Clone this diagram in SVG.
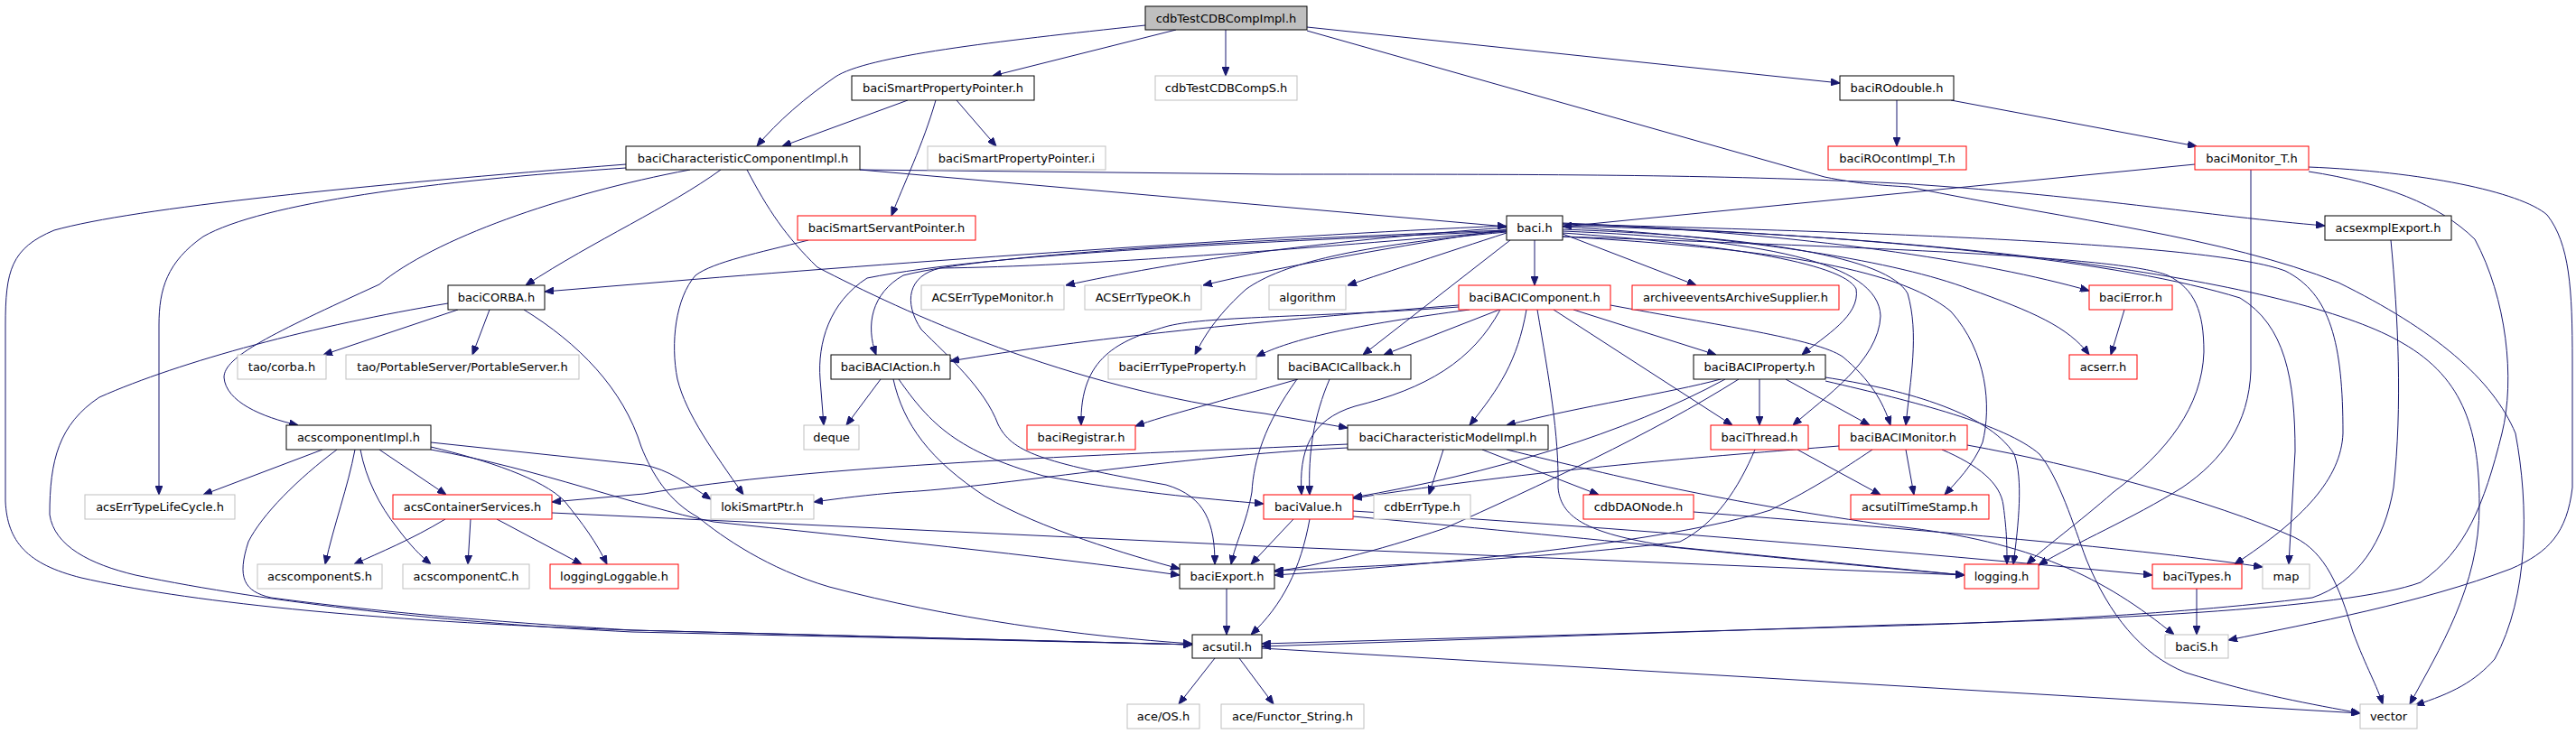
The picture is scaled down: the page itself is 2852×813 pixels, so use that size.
<svg xmlns="http://www.w3.org/2000/svg" width="2852" height="813" viewBox="0 0 2852 813">
<defs>
<marker id="a" viewBox="0 0 10 8" refX="10" refY="4" markerWidth="10" markerHeight="8" markerUnits="userSpaceOnUse" orient="auto"><path d="M0,0L10,4L0,8z" fill="#191970" stroke="#191970" stroke-width="1"/></marker>
<style>
.nb rect{fill:#fff;stroke:#000;stroke-width:1}
.nr rect{fill:#fff;stroke:#ff0000;stroke-width:1}
.ng rect{fill:#fff;stroke:#bfbfbf;stroke-width:1}
.root rect{fill:#bfbfbf;stroke:#000;stroke-width:1}
text{font-family:"DejaVu Sans","Noto Sans",sans-serif;font-size:13px;text-anchor:middle;fill:#000}
#edges path{fill:none;stroke:#191970;stroke-width:1;marker-end:url(#a)}
</style>
</defs>
<rect x="0" y="0" width="2852" height="813" fill="#fff"/>
<g id="edges">
<path d="M1268,28 C1100,46 960,62 925,85 C893,107 860,135 838,162"/>
<path d="M1302,33 L1099,84"/>
<path d="M1357,33 L1357,84"/>
<path d="M1447,30 L2037,92"/>
<path d="M1447,34 L2020,196 C2060,204 2080,205 2113,207 C2300,245 2460,262 2589,313 C2695,365 2760,420 2785,480 C2800,560 2800,660 2762,730 C2740,755 2715,768 2674,781"/>
<path d="M1005,111 L866,162"/>
<path d="M1059,111 L1103,162"/>
<path d="M1036,111 C1022,160 1000,205 987,239"/>
<path d="M2100,111 L2100,162"/>
<path d="M2160,111 L2432,162"/>
<path d="M952,188 L1668,251"/>
<path d="M952,188 L1413,193 C1700,193 1900,193 2100,203 C2300,215 2450,240 2574,250"/>
<path d="M798,188 C740,230 660,265 582,316"/>
<path d="M764,188 C620,215 480,265 420,315 C300,370 248,395 248,418 C250,445 290,462 330,471"/>
<path d="M693,186 C480,200 290,225 225,262 C185,290 176,320 176,360 L176,548"/>
<path d="M693,182 C400,205 150,230 60,255 C12,275 6,300 6,360 L6,555 C8,600 30,625 90,640 C200,665 400,688 700,698 L1320,714"/>
<path d="M827,188 C850,232 870,262 905,296 C1000,345 1180,430 1400,458 L1492,474"/>
<path d="M2430,182 L1730,251"/>
<path d="M2492,188 L2492,410 C2490,470 2460,510 2416,540 C2360,575 2300,600 2257,626"/>
<path d="M2556,190 C2640,203 2700,226 2740,265 C2775,330 2785,420 2770,480 C2750,560 2730,610 2680,645 C2600,675 2300,688 2100,692 L1397,716"/>
<path d="M2556,185 C2680,190 2790,212 2820,238 C2845,270 2848,320 2848,400 L2848,540 C2842,590 2822,612 2780,630 C2680,668 2560,690 2467,709"/>
<path d="M2647,266 C2655,350 2660,450 2650,540 C2640,600 2610,645 2560,662 C2400,682 2200,690 2100,693 L1397,713"/>
<path d="M895,266 C840,280 790,290 770,305 C748,330 742,380 750,420 C760,460 790,500 823,548"/>
<path d="M507,343 L358,393"/>
<path d="M542,343 L523,393"/>
<path d="M496,336 C350,360 200,400 110,440 C65,470 55,510 55,570 C60,605 100,625 150,637 C300,668 500,690 700,700 L1320,714"/>
<path d="M580,343 C640,380 690,430 710,495 C722,525 740,555 773,573 C800,595 850,630 918,650 C1050,685 1200,705 1320,713"/>
<path d="M357,498 L225,548"/>
<path d="M420,498 L494,548"/>
<path d="M393,498 C385,540 370,580 360,625"/>
<path d="M399,498 C405,530 420,560 440,585 C455,605 465,615 477,625"/>
<path d="M477,495 C540,510 600,530 625,555 C645,580 660,600 672,625"/>
<path d="M477,490 L713,515 C740,520 760,535 787,553"/>
<path d="M477,498 C600,520 700,560 790,578 C950,595 1150,615 1306,637"/>
<path d="M373,498 C330,530 290,570 275,600 C262,640 270,655 300,662 C450,682 600,692 700,698 L1320,714"/>
<path d="M493,575 C455,598 420,612 392,625"/>
<path d="M521,575 L518,625"/>
<path d="M550,575 L644,625"/>
<path d="M611,568 L1400,605 L2175,637"/>
<path d="M1492,492 C1200,505 900,515 713,547 L611,556"/>
<path d="M1492,496 C1300,505 1100,540 1000,545 C960,548 930,552 901,556"/>
<path d="M1598,498 L1582,548"/>
<path d="M1641,498 L1770,548"/>
<path d="M1668,498 C1800,530 1900,555 2100,583 C2250,600 2330,640 2407,703"/>
<path d="M1875,567 C2100,585 2350,605 2505,628"/>
<path d="M1615,338 C1400,355 1200,375 1052,400"/>
<path d="M1627,343 C1500,360 1430,375 1391,395"/>
<path d="M1660,343 L1532,393"/>
<path d="M1742,343 L1900,393"/>
<path d="M1690,343 C1680,400 1660,430 1627,471"/>
<path d="M1720,343 L1918,471"/>
<path d="M1783,338 C1900,360 2010,375 2040,395 C2070,420 2085,445 2093,471"/>
<path d="M1615,340 C1450,352 1330,350 1290,362 C1240,377 1195,395 1197,471"/>
<path d="M1661,343 C1630,400 1580,430 1500,450 C1450,465 1438,500 1441,548"/>
<path d="M1702,343 C1715,420 1726,480 1725,540 C1728,575 1760,592 1855,606 L2175,637"/>
<path d="M975,420 L937,471"/>
<path d="M995,420 C1030,470 1060,500 1155,527 C1250,545 1330,552 1399,558"/>
<path d="M989,420 C1000,470 1030,510 1091,550 C1150,585 1250,615 1306,630"/>
<path d="M1437,420 C1350,445 1290,460 1257,472"/>
<path d="M1472,420 C1455,460 1448,500 1450,548"/>
<path d="M1436,420 C1400,470 1388,510 1386,545 C1380,580 1368,600 1363,625"/>
<path d="M1668,256 C1450,275 1200,295 1041,297 C1005,305 1000,335 1020,365 C1050,395 1090,430 1105,470 C1120,500 1150,512 1291,537 C1335,550 1345,580 1345,625"/>
<path d="M1668,250 C1400,262 1000,290 713,314 L603,323"/>
<path d="M1668,252 C1450,268 1300,290 1180,316"/>
<path d="M1668,254 C1550,272 1420,295 1332,316"/>
<path d="M1668,258 C1600,280 1540,300 1492,316"/>
<path d="M1699,266 L1699,316"/>
<path d="M1730,259 L1878,316"/>
<path d="M1730,247 C2000,258 2200,290 2313,322"/>
<path d="M1730,251 C1950,265 2100,290 2180,320 C2250,345 2290,362 2313,393"/>
<path d="M1668,255 C1400,265 1100,280 1000,305 C965,325 958,360 970,393"/>
<path d="M1668,256 C1400,268 1100,280 960,308 C918,335 905,380 908,420 L912,471"/>
<path d="M1668,257 C1500,272 1420,292 1380,320 C1352,345 1335,368 1323,393"/>
<path d="M1672,266 L1509,393"/>
<path d="M1730,258 C1900,270 2040,290 2055,320 C2060,350 2020,372 1995,393"/>
<path d="M1730,256 C1950,265 2080,290 2082,350 C2080,400 2020,440 1985,471"/>
<path d="M1730,254 C1950,262 2090,285 2112,325 C2125,370 2115,420 2110,471"/>
<path d="M1730,262 C1950,275 2100,295 2160,345 C2200,390 2205,450 2195,490 C2185,515 2165,535 2153,548"/>
<path d="M1730,262 C2100,275 2350,285 2400,305 C2430,320 2440,345 2440,390 C2438,450 2400,500 2340,545 C2300,580 2265,605 2244,625"/>
<path d="M1730,248 C2100,258 2450,270 2530,300 C2580,325 2594,380 2594,480 C2592,530 2550,575 2474,625"/>
<path d="M1730,248 C2100,262 2350,290 2480,330 C2530,360 2541,420 2541,500 L2534,625"/>
<path d="M1730,250 C2200,262 2550,315 2660,380 C2730,420 2745,480 2745,560 C2745,650 2700,720 2668,780"/>
<path d="M1905,420 C1850,435 1750,450 1668,471"/>
<path d="M1948,420 L1948,471"/>
<path d="M1977,420 L2070,471"/>
<path d="M1910,420 C1800,480 1650,525 1498,551"/>
<path d="M2021,418 C2100,430 2200,455 2230,503 C2240,530 2235,580 2229,625"/>
<path d="M2021,422 C2120,445 2220,470 2258,503 C2280,530 2295,580 2310,620 C2335,680 2370,725 2420,745 C2500,770 2560,780 2613,790"/>
<path d="M1925,420 C1830,480 1700,540 1600,585 C1520,612 1460,626 1411,633"/>
<path d="M2110,498 L2119,548"/>
<path d="M2150,498 C2190,515 2215,535 2218,560 C2222,590 2222,605 2222,625"/>
<path d="M2036,494 C1900,505 1700,520 1498,552"/>
<path d="M2178,493 C2300,515 2450,555 2540,595 C2575,612 2590,650 2605,700 C2620,740 2632,760 2638,780"/>
<path d="M2073,498 C2040,520 2010,540 1960,565 C1850,600 1600,625 1411,637"/>
<path d="M1990,498 L2082,548"/>
<path d="M1943,498 C1925,540 1900,580 1860,600 C1700,620 1500,628 1411,632"/>
<path d="M1432,575 L1385,625"/>
<path d="M1450,575 C1440,630 1420,670 1385,703"/>
<path d="M1498,572 C1800,600 2000,622 2175,637"/>
<path d="M1498,566 C1800,585 2100,610 2383,637"/>
<path d="M2432,652 L2432,703"/>
<path d="M2352,343 L2337,393"/>
<path d="M1358,652 L1358,703"/>
<path d="M1345,729 L1305,780"/>
<path d="M1372,729 L1410,780"/>
<path d="M1397,718 L2613,790"/>
</g>
<g id="n1" class="root"><rect x="1268" y="7" width="179" height="26"/><text x="1357.5" y="25">cdbTestCDBCompImpl.h</text></g>
<g id="n2" class="nb"><rect x="943" y="84" width="202" height="27"/><text x="1044" y="102">baciSmartPropertyPointer.h</text></g>
<g id="n3" class="ng"><rect x="1279" y="84" width="157" height="27"/><text x="1357.5" y="102">cdbTestCDBCompS.h</text></g>
<g id="n4" class="nb"><rect x="2037" y="84" width="126" height="27"/><text x="2100" y="102">baciROdouble.h</text></g>
<g id="n5" class="nb"><rect x="693" y="162" width="259" height="26"/><text x="822.5" y="180">baciCharacteristicComponentImpl.h</text></g>
<g id="n6" class="ng"><rect x="1027" y="162" width="197" height="26"/><text x="1125.5" y="180">baciSmartPropertyPointer.i</text></g>
<g id="n7" class="nr"><rect x="2024" y="162" width="153" height="26"/><text x="2100.5" y="180">baciROcontImpl_T.h</text></g>
<g id="n8" class="nr"><rect x="2430" y="162" width="126" height="26"/><text x="2493" y="180">baciMonitor_T.h</text></g>
<g id="n9" class="nr"><rect x="883" y="239" width="197" height="27"/><text x="981.5" y="257">baciSmartServantPointer.h</text></g>
<g id="n10" class="nb"><rect x="1668" y="239" width="62" height="27"/><text x="1699" y="257">baci.h</text></g>
<g id="n11" class="nb"><rect x="2574" y="239" width="140" height="27"/><text x="2644" y="257">acsexmplExport.h</text></g>
<g id="n12" class="nb"><rect x="496" y="316" width="107" height="27"/><text x="549.5" y="334">baciCORBA.h</text></g>
<g id="n13" class="ng"><rect x="1020" y="316" width="158" height="27"/><text x="1099" y="334">ACSErrTypeMonitor.h</text></g>
<g id="n14" class="ng"><rect x="1201" y="316" width="129" height="27"/><text x="1265.5" y="334">ACSErrTypeOK.h</text></g>
<g id="n15" class="ng"><rect x="1405" y="316" width="85" height="27"/><text x="1447.5" y="334">algorithm</text></g>
<g id="n16" class="nr"><rect x="1615" y="316" width="168" height="27"/><text x="1699" y="334">baciBACIComponent.h</text></g>
<g id="n17" class="nr"><rect x="1807" y="316" width="229" height="27"/><text x="1921.5" y="334">archiveeventsArchiveSupplier.h</text></g>
<g id="n18" class="nr"><rect x="2313" y="316" width="92" height="27"/><text x="2359" y="334">baciError.h</text></g>
<g id="n19" class="ng"><rect x="263" y="393" width="98" height="27"/><text x="312" y="411">tao/corba.h</text></g>
<g id="n20" class="ng"><rect x="383" y="393" width="258" height="27"/><text x="512" y="411">tao/PortableServer/PortableServer.h</text></g>
<g id="n21" class="nb"><rect x="920" y="393" width="132" height="27"/><text x="986" y="411">baciBACIAction.h</text></g>
<g id="n22" class="ng"><rect x="1227" y="393" width="164" height="27"/><text x="1309" y="411">baciErrTypeProperty.h</text></g>
<g id="n23" class="nb"><rect x="1415" y="393" width="147" height="27"/><text x="1488.5" y="411">baciBACICallback.h</text></g>
<g id="n24" class="nb"><rect x="1875" y="393" width="146" height="27"/><text x="1948" y="411">baciBACIProperty.h</text></g>
<g id="n25" class="nr"><rect x="2291" y="393" width="75" height="27"/><text x="2328.5" y="411">acserr.h</text></g>
<g id="n26" class="nb"><rect x="317" y="471" width="160" height="27"/><text x="397" y="489">acscomponentImpl.h</text></g>
<g id="n27" class="ng"><rect x="890" y="471" width="61" height="27"/><text x="920.5" y="489">deque</text></g>
<g id="n28" class="nr"><rect x="1137" y="471" width="120" height="27"/><text x="1197" y="489">baciRegistrar.h</text></g>
<g id="n29" class="nb"><rect x="1492" y="471" width="222" height="27"/><text x="1603" y="489">baciCharacteristicModelImpl.h</text></g>
<g id="n30" class="nr"><rect x="1894" y="471" width="108" height="27"/><text x="1948" y="489">baciThread.h</text></g>
<g id="n31" class="nr"><rect x="2036" y="471" width="142" height="27"/><text x="2107" y="489">baciBACIMonitor.h</text></g>
<g id="n32" class="ng"><rect x="94" y="548" width="166" height="27"/><text x="177" y="566">acsErrTypeLifeCycle.h</text></g>
<g id="n33" class="nr"><rect x="435" y="548" width="176" height="27"/><text x="523" y="566">acsContainerServices.h</text></g>
<g id="n34" class="ng"><rect x="787" y="548" width="114" height="27"/><text x="844" y="566">lokiSmartPtr.h</text></g>
<g id="n35" class="nr"><rect x="1399" y="548" width="99" height="27"/><text x="1448.5" y="566">baciValue.h</text></g>
<g id="n36" class="ng"><rect x="1521" y="548" width="107" height="27"/><text x="1574.5" y="566">cdbErrType.h</text></g>
<g id="n37" class="nr"><rect x="1753" y="548" width="122" height="27"/><text x="1814" y="566">cdbDAONode.h</text></g>
<g id="n38" class="nr"><rect x="2049" y="548" width="153" height="27"/><text x="2125.5" y="566">acsutilTimeStamp.h</text></g>
<g id="n39" class="ng"><rect x="285" y="625" width="138" height="27"/><text x="354" y="643">acscomponentS.h</text></g>
<g id="n40" class="ng"><rect x="446" y="625" width="140" height="27"/><text x="516" y="643">acscomponentC.h</text></g>
<g id="n41" class="nr"><rect x="609" y="625" width="142" height="27"/><text x="680" y="643">loggingLoggable.h</text></g>
<g id="n42" class="nb"><rect x="1306" y="625" width="105" height="27"/><text x="1358.5" y="643">baciExport.h</text></g>
<g id="n43" class="nr"><rect x="2175" y="625" width="82" height="27"/><text x="2216" y="643">logging.h</text></g>
<g id="n44" class="nr"><rect x="2383" y="625" width="99" height="27"/><text x="2432.5" y="643">baciTypes.h</text></g>
<g id="n45" class="ng"><rect x="2505" y="625" width="52" height="27"/><text x="2531" y="643">map</text></g>
<g id="n46" class="nb"><rect x="1320" y="703" width="77" height="26"/><text x="1358.5" y="721">acsutil.h</text></g>
<g id="n47" class="ng"><rect x="2397" y="703" width="70" height="26"/><text x="2432" y="721">baciS.h</text></g>
<g id="n48" class="ng"><rect x="1248" y="780" width="80" height="27"/><text x="1288" y="798">ace/OS.h</text></g>
<g id="n49" class="ng"><rect x="1352" y="780" width="158" height="27"/><text x="1431" y="798">ace/Functor_String.h</text></g>
<g id="n50" class="ng"><rect x="2613" y="780" width="63" height="27"/><text x="2644.5" y="798">vector</text></g>
</svg>
